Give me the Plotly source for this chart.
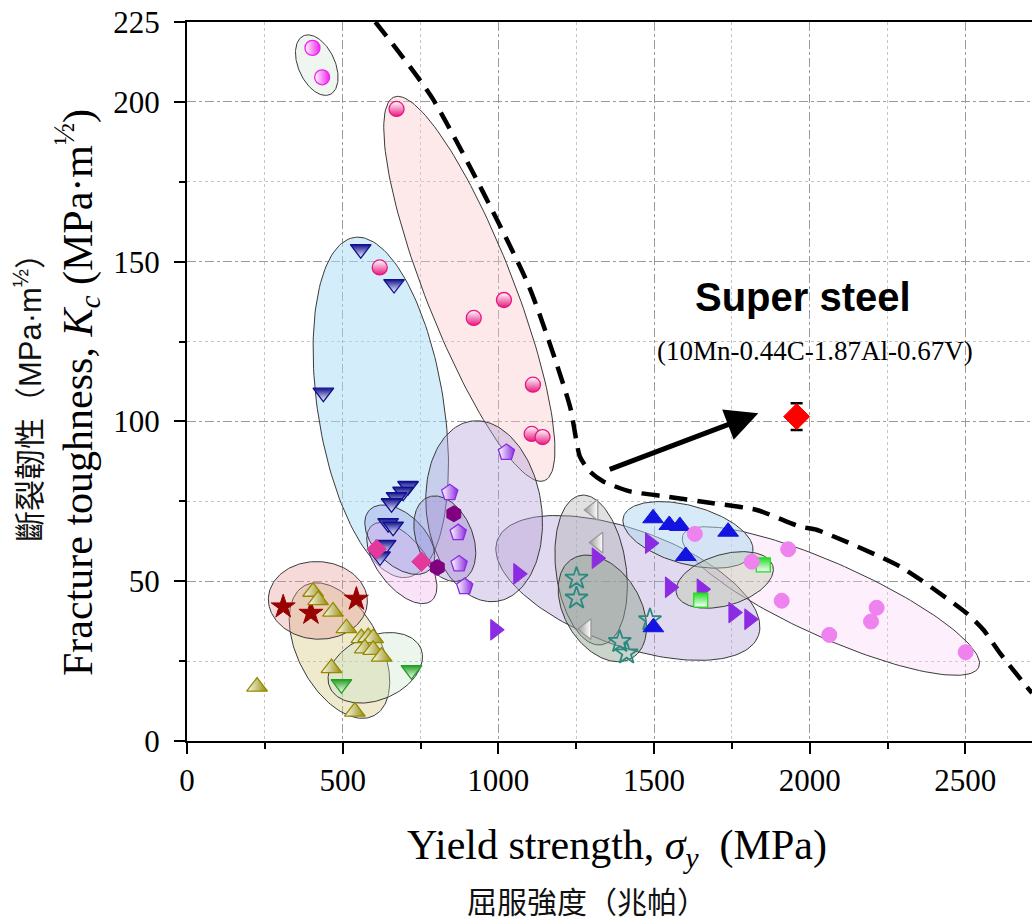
import numpy as np
import plotly.graph_objects as go

# ---------------- data ----------------
mag_half_x = [403, 434]
mag_half_y = [216.9, 207.7]

pink_half_x = [673, 619, 921, 1018, 1111, 1107, 1142]
pink_half_y = [197.8, 148.2, 132.4, 138.0, 111.5, 96.1, 95.1]

navy_tri_x = [558, 665, 438, 710, 694, 673, 657, 646, 662, 638, 620]
navy_tri_y = [153.9, 143.0, 109.0, 79.8, 78.0, 76.3, 74.4, 68.2, 67.1, 61.4, 57.8]

pink_dia_x = [609, 753]
pink_dia_y = [60.0, 56.1]

hex_x = [804, 857]
hex_y = [54.3, 71.1]

pent_x = [844, 871, 874, 892, 1026]
pent_y = [77.7, 65.2, 55.4, 48.3, 90.3]

tri_right_x = [1064, 990, 1316, 1487, 1551, 1653, 1755, 1806]
tri_right_y = [52.3, 34.8, 57.2, 61.9, 48.1, 47.5, 40.2, 38.1]

gray_left_x = [1305, 1321, 1283]
gray_left_y = [72.3, 62.1, 35.0]

teal_star_x = [1251, 1251, 1390, 1412, 1487]
teal_star_y = [50.9, 44.7, 31.1, 27.5, 37.9]

blue_tri_x = [1497, 1549, 1583, 1738, 1602, 1498]
blue_tri_y = [69.7, 67.6, 67.3, 65.5, 57.9, 35.6]

green_sq_x = [1851, 1650]
green_sq_y = [55.1, 44.1]

violet_x = [1631, 1931, 1814, 1910, 2063, 2215, 2197, 2501]
violet_y = [64.8, 60.0, 56.1, 43.9, 33.2, 41.7, 37.4, 27.8]

red_star_x = [309, 398, 544]
red_star_y = [42.0, 40.0, 44.4]

olive_tri_x = [405, 421, 469, 512, 560, 582, 598, 571, 598, 625, 464, 539, 225]
olive_tri_y = [46.7, 44.1, 40.5, 35.3, 32.2, 32.5, 32.2, 29.0, 28.5, 26.4, 22.8, 9.2, 17.0]

green_tri_x = [496, 721]
green_tri_y = [17.8, 22.2]

super_x = [1958]
super_y = [101.5]
super_err = [4.2]

boundary_x = [605, 791, 1096, 1230, 1262, 1294, 1337, 1423, 1540, 1690, 1830, 1969, 2022, 2290, 2504, 2558, 2611, 2697, 2714]
boundary_y = [225, 200.7, 142.8, 104.7, 89.0, 84.3, 81.2, 78.1, 76.5, 74.4, 72.3, 67.1, 66.1, 54.6, 40.0, 34.8, 27.5, 17.0, 15.0]

x_ticks = [0, 500, 1000, 1500, 2000, 2500]
y_ticks = [0, 50, 100, 150, 200, 225]

# ---------------- layout geometry ----------------
W, H = 1032, 924
L, R, T, B = 187, 0, 22, 183
x_range = [0, 2714]
y_range = [0, 225]
kx = (W - L - R) / (x_range[1] - x_range[0])
ky = (H - T - B) / (y_range[1] - y_range[0])

fig = go.Figure()

# group envelopes: centre (data), semi-axes (px), angle (deg, screen), fill
envelopes = [
    (906.8, 141.5, 206, 44, 68.6, "rgba(250,200,200,0.40)"),
    (622.4, 104.4, 172, 63, 81.1, "rgba(170,220,245,0.50)"),
    (416.8, 211.5, 32.2, 18.3, 65.6, "rgba(210,225,210,0.35)"),
    (2068, 43.8, 162, 37, 24.1, "rgba(250,210,245,0.35)"),
    (1416, 47.9, 139, 58, 20.1, "rgba(180,160,215,0.40)"),
    (954.4, 71.9, 91, 57.5, 82, "rgba(180,160,215,0.40)"),
    (1298, 53.5, 75.5, 35.1, 82.3, "rgba(170,170,170,0.35)"),
    (1334, 41.5, 57.9, 38, 58.9, "rgba(140,160,140,0.45)"),
    (1609, 64.5, 67, 29.2, 15.4, "rgba(173,216,240,0.50)"),
    (1727, 50.4, 50.2, 25.5, -16.5, "rgba(190,200,170,0.40)"),
    (690, 55.7, 48, 24, 52, "rgba(245,190,240,0.45)"),
    (683.5, 63.0, 42.4, 25.2, 44.5, "rgba(150,150,230,0.35)"),
    (828, 63.3, 44.8, 28, 67.7, "rgba(140,110,200,0.30)"),
    (489.7, 28.3, 73.7, 41.1, 61.8, "rgba(215,200,130,0.40)"),
    (420.3, 44.0, 49.5, 38.8, 3, "rgba(230,150,150,0.35)"),
    (604.8, 22.9, 49.5, 32, -23.1, "rgba(200,230,200,0.35)"),
]
t = np.linspace(0, 2 * np.pi, 160)
for cx, cy, a, b, th, fill in envelopes:
    r = np.deg2rad(th)
    dx = a * np.cos(t) * np.cos(r) - b * np.sin(t) * np.sin(r)
    dy = a * np.cos(t) * np.sin(r) + b * np.sin(t) * np.cos(r)
    fig.add_trace(go.Scatter(x=cx + dx / kx, y=cy - dy / ky, mode="lines",
                             fill="toself", fillcolor=fill,
                             line=dict(color="#3a3a3a", width=1),
                             hoverinfo="skip", showlegend=False))

# boundary dashed line
fig.add_trace(go.Scatter(x=boundary_x, y=boundary_y, mode="lines",
                         line=dict(color="black", width=4.5, dash="18px,10px",
                                   shape="spline", smoothing=0.6),
                         hoverinfo="skip", showlegend=False))


def add_pts(xs, ys, symbol, color, size, line_color=None, lw=1.2,
            grad=None, grad_color=None):
    m = dict(symbol=symbol, color=color, size=size,
             line=dict(color=line_color or color, width=lw))
    if grad:
        m["gradient"] = dict(type=grad, color=grad_color)
    fig.add_trace(go.Scatter(x=xs, y=ys, mode="markers", marker=m,
                             showlegend=False, hoverinfo="x+y"))


add_pts(mag_half_x, mag_half_y, "circle", "white", 15, "#ee22ee", 1.3, "horizontal", "#ee22ee")
add_pts(pink_half_x, pink_half_y, "circle", "white", 15, "#e8177f", 1.3, "vertical", "#e8177f")
add_pts(navy_tri_x, navy_tri_y, "triangle-down", "#101090", 18, "#101090", 1.3, "vertical", "white")
add_pts(pink_dia_x, pink_dia_y, "diamond", "#e4389b", 15, "#e4389b", 1)
add_pts(hex_x, hex_y, "hexagon", "#800080", 16, "#800080", 1)
add_pts(pent_x, pent_y, "pentagon", "white", 17, "#8a2be2", 1.3, "horizontal", "#8a2be2")
add_pts(tri_right_x, tri_right_y, "triangle-right", "#8b2be2", 18, "#8b2be2", 1)
add_pts(gray_left_x, gray_left_y, "triangle-left", "#999999", 18, "#999999", 1.3, "horizontal", "white")
add_pts(teal_star_x, teal_star_y, "star-open", "#2a8a80", 17, "#2a8a80", 1.8)
add_pts(blue_tri_x, blue_tri_y, "triangle-up", "#1414e0", 18, "#1414e0", 1)
add_pts(green_sq_x, green_sq_y, "square", "#22dd22", 14, "#22dd22", 1.3, "vertical", "white")
add_pts(violet_x, violet_y, "circle", "#ee82ee", 15, "#ee82ee", 1)
add_pts(red_star_x, red_star_y, "star", "#990000", 18, "#990000", 1)
add_pts(olive_tri_x, olive_tri_y, "triangle-up", "white", 18, "#948a00", 1.3, "horizontal", "#948a00")
add_pts(green_tri_x, green_tri_y, "triangle-down", "#22a022", 18, "#22a022", 1.3, "vertical", "white")

# super steel
fig.add_trace(go.Scatter(x=super_x, y=super_y, mode="markers",
                         marker=dict(symbol="diamond", color="#ff0000", size=20,
                                     line=dict(color="#ff0000", width=1)),
                         error_y=dict(type="data", array=super_err, visible=True,
                                      color="black", thickness=2.5, width=6),
                         showlegend=False))

serif = "Liberation Serif, Times New Roman, serif"
axis_common = dict(showline=True, linecolor="black", linewidth=2, mirror=True,
                   ticks="outside", ticklen=11, tickwidth=1.5, tickcolor="black",
                   showgrid=True, gridcolor="#9a9a9a", griddash="dashdot", gridwidth=1,
                   zeroline=False, tickfont=dict(family=serif, size=31, color="black"))

fig.update_layout(
    width=W, height=H,
    margin=dict(l=L, r=R, t=T, b=B, pad=0),
    paper_bgcolor="white", plot_bgcolor="white",
    showlegend=False,
    xaxis=dict(range=x_range, tickmode="array", tickvals=x_ticks,
               ticktext=[str(v) for v in x_ticks],
               minor=dict(tickmode="array", tickvals=[250, 750, 1250, 1750, 2250],
                          ticks="outside", ticklen=6, tickcolor="black",
                          showgrid=True, gridcolor="#c4c4c4", griddash="dot"),
               ticklabelstandoff=0, **axis_common),
    yaxis=dict(range=y_range, tickmode="array", tickvals=y_ticks,
               ticktext=[str(v) for v in y_ticks],
               minor=dict(tickmode="array", tickvals=[25, 75, 125, 175],
                          ticks="outside", ticklen=6, tickcolor="black",
                          showgrid=True, gridcolor="#c4c4c4", griddash="dot"),
               ticklabelstandoff=8, **{**axis_common, "mirror": False}),
)

pw = W - L - R
ph = H - T - B
cjk = "Noto Sans CJK TC, Noto Sans CJK SC"
latin_span = "<span style='font-family:Liberation Sans, Arial'>MPa·m<sup>½</sup></span>"
annotations = [
    dict(x=1835, y=102.6, ax=1353, ay=84.8, xref="x", yref="y", axref="x", ayref="y",
         text="", showarrow=True, arrowhead=2, arrowsize=1.3, arrowwidth=5,
         arrowcolor="black", standoff=0, startstandoff=0),
    dict(x=1978, y=139, xref="x", yref="y", text="<b>Super steel</b>", showarrow=False,
         font=dict(family="Liberation Sans, Arial, sans-serif", size=40, color="black"),
         xanchor="center", yanchor="middle"),
    dict(x=2017, y=122.1, xref="x", yref="y", text="(10Mn-0.44C-1.87Al-0.67V)",
         showarrow=False, font=dict(family=serif, size=27, color="black"),
         xanchor="center", yanchor="middle"),
    dict(x=(616.5 - L) / pw, y=(H - B - 848) / ph, xref="paper", yref="paper",
         text="Yield strength, <i>σ</i><sub><i>y</i></sub>  (MPa)", showarrow=False,
         font=dict(family=serif, size=42, color="black"),
         xanchor="center", yanchor="middle"),
    dict(x=(586.5 - L) / pw, y=(H - B - 900) / ph, xref="paper", yref="paper",
         text="屈服強度（兆帕）", showarrow=False,
         font=dict(family=cjk, size=30, color="#111"),
         xanchor="center", yanchor="middle"),
    dict(x=(77 - L) / pw, y=(H - B - 393) / ph, xref="paper", yref="paper",
         text="Fracture toughness, <i>K</i><sub><i>c</i></sub> (MPa·m<sup>½</sup>)",
         showarrow=False, textangle=-90,
         font=dict(family=serif, size=42, color="black"),
         xanchor="center", yanchor="middle"),
    dict(x=(27 - L) / pw, y=(H - B - 390) / ph, xref="paper", yref="paper",
         text="斷裂韌性（" + latin_span + "）", showarrow=False, textangle=-90,
         font=dict(family=cjk, size=31, color="#111"),
         xanchor="center", yanchor="middle"),
]
fig.update_layout(annotations=annotations)

fig.write_html("out.html")
